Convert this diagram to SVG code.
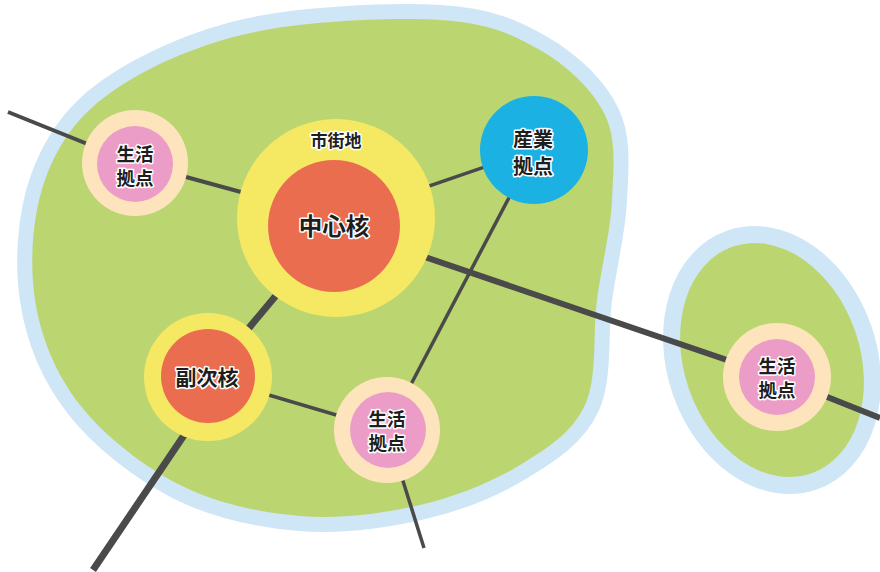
<svg xmlns="http://www.w3.org/2000/svg" xmlns:xlink="http://www.w3.org/1999/xlink" width="880" height="572" viewBox="0 0 880 572">
<style>
.edge{fill:#cee6f6;stroke:#cee6f6;stroke-linejoin:round}
.land{fill:#bbd671}
.ln{stroke:#4a4a4a;fill:none;stroke-linecap:butt}
.lbl{font-family:"Noto Sans CJK JP","Noto Sans",sans-serif;font-weight:700;fill:#1e1e1e;stroke:#fff;stroke-width:3;paint-order:stroke;stroke-linejoin:round;text-anchor:middle;dominant-baseline:central}
.cream{fill:#fde4bd}
.pink{fill:#ec9dc7}
.yel{fill:#f5e964}
.red{fill:#eb6d50}
.blue{fill:#1cb1e3}
</style>
<defs>
<path id="bigLand" d="M440,20 C488.3,22.8 512.5,34.2 540,50 C567.5,65.8 593,90 605,115 C617,140 613.3,169.2 612,200 C610.7,230.8 601.5,265.8 597,300 C592.5,334.2 597.8,377.5 585,405 C572.2,432.5 547.5,448.3 520,465 C492.5,481.7 456.7,496.5 420,505 C383.3,513.5 340,519.3 300,516 C260,512.7 216.7,503.5 180,485 C143.3,466.5 104.2,435.8 80,405 C55.8,374.2 40.8,337.5 35,300 C29.2,262.5 32.5,214.5 45,180 C57.5,145.5 75.8,117.5 110,93 C144.2,68.5 195,45.2 250,33 C305,20.8 391.7,17.2 440,20 Z"/>
<ellipse id="smallLand" cx="772" cy="360" rx="88" ry="120" transform="rotate(-19 772 360)"/>
</defs>
<rect width="880" height="572" fill="#fff"/>
<g id="areas">
<use xlink:href="#bigLand" class="edge" stroke-width="30"/>
<use xlink:href="#bigLand" class="land"/>
<use xlink:href="#smallLand" class="edge" stroke-width="34"/>
<use xlink:href="#smallLand" class="land"/>
</g>
<g id="connectors">
<polyline class="ln" stroke-width="4" points="8,112 135,163 336,218"/>
<line class="ln" stroke-width="3.5" x1="336" y1="218" x2="534" y2="150"/>
<line class="ln" stroke-width="3.5" x1="534" y1="150" x2="387" y2="430"/>
<polyline class="ln" stroke-width="6" points="334,226 777,377 880,418"/>
<line class="ln" stroke-width="7" x1="334" y1="226" x2="208" y2="377"/>
<line class="ln" stroke-width="7" x1="220" y1="382" x2="93" y2="570"/>
<line class="ln" stroke-width="3.5" x1="208" y1="377" x2="387" y2="430"/>
<line class="ln" stroke-width="3.5" x1="387" y1="430" x2="424" y2="548"/>
</g>
<g id="node-seikatsu-1">
<circle class="cream" cx="135" cy="163" r="53"/>
<circle class="pink" cx="135" cy="164" r="38"/>
<text class="lbl" x="135" y="153" font-size="18.5">生活</text>
<text class="lbl" x="135" y="177" font-size="18.5">拠点</text>
</g>
<g id="node-chushinkaku">
<circle class="yel" cx="336" cy="218" r="99"/>
<circle class="red" cx="334" cy="226" r="66"/>
<text class="lbl" x="336" y="139" font-size="17">市街地</text>
<text class="lbl" x="334" y="225" font-size="23.5">中心核</text>
</g>
<g id="node-sangyo">
<circle class="blue" cx="534" cy="150" r="54"/>
<text class="lbl" x="533" y="138" font-size="20">産業</text>
<text class="lbl" x="533" y="165" font-size="20">拠点</text>
</g>
<g id="node-fukujikaku">
<circle class="yel" cx="208" cy="377" r="64"/>
<circle class="red" cx="208" cy="376" r="47"/>
<text class="lbl" x="207" y="376" font-size="21">副次核</text>
</g>
<g id="node-seikatsu-2">
<circle class="cream" cx="387" cy="430" r="53"/>
<circle class="pink" cx="388" cy="430" r="38"/>
<text class="lbl" x="387" y="418" font-size="18.5">生活</text>
<text class="lbl" x="387" y="442" font-size="18.5">拠点</text>
</g>
<g id="node-seikatsu-3">
<circle class="cream" cx="777" cy="377" r="54"/>
<circle class="pink" cx="777" cy="377" r="38"/>
<text class="lbl" x="777" y="365" font-size="18.5">生活</text>
<text class="lbl" x="777" y="389" font-size="18.5">拠点</text>
</g>
</svg>
